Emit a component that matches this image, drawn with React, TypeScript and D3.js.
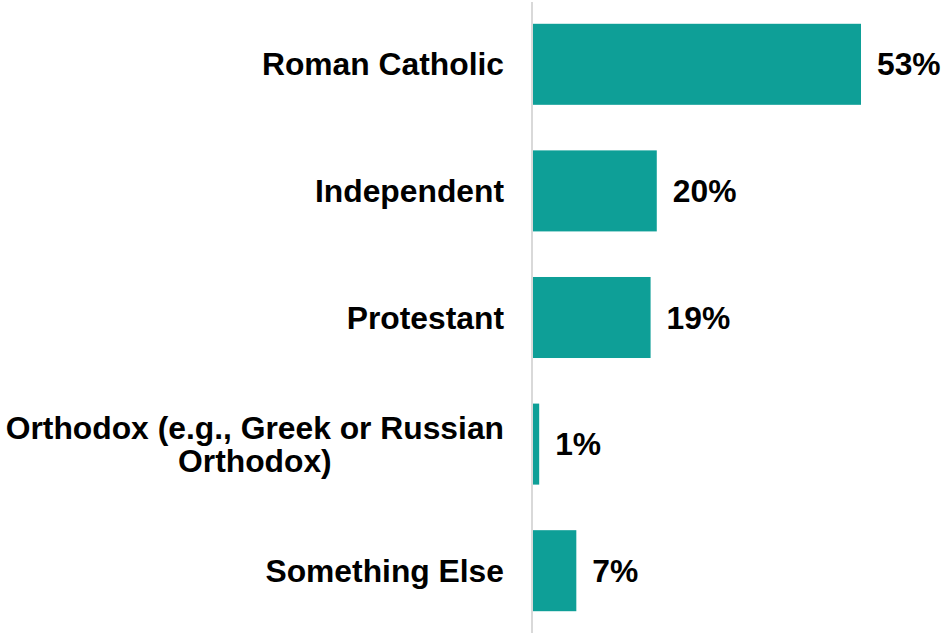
import React, { useLayoutEffect, useRef, useState } from "react";
import * as d3 from "d3";

const categories: string[][] = [
  ["Roman Catholic"],
  ["Independent"],
  ["Protestant"],
  ["Orthodox (e.g., Greek or Russian", "Orthodox)"],
  ["Something Else"],
];
const values: number[] = [53, 20, 19, 1, 7];
const valueLabels: string[] = ["53%", "20%", "19%", "1%", "7%"];

const W = 943;
const H = 638;
const FONT = "'Liberation Sans', Arial, sans-serif";
const FS = 31.8;
const BAR = "#0E9F97";

export default function App() {
  const keys = categories.map((c) => c.join(" "));
  const y = d3.scaleBand<string>().domain(keys).range([1, 634]).paddingInner(0.36).paddingOuter(0.18);
  const x = d3.scaleLinear().domain([0, 53]).range([533, 861]);
  const labelRight = 504;
  const refs = useRef<(SVGTextElement | null)[]>([]);
  const [widths, setWidths] = useState<number[]>(categories.map(() => 0));

  useLayoutEffect(() => {
    setWidths(
      categories.map((_, i) => {
        const el = refs.current[i];
        if (!el) return 0;
        const tspans = Array.from(el.querySelectorAll("tspan")) as SVGTSpanElement[];
        return d3.max(tspans, (t) => t.getComputedTextLength()) || 0;
      })
    );
  }, []);

  const lineH = 33;

  return (
    <svg width={W} height={H} style={{ position: "absolute", left: 0, top: 0 }}>
      <rect width={W} height={H} fill="#fff" />
      <line x1={532} x2={532} y1={2} y2={633} stroke="#d9d9d9" strokeWidth={2} />
      {categories.map((lines, i) => {
        const key = keys[i];
        const yc = (y(key) as number) + y.bandwidth() / 2;
        const multi = lines.length > 1;
        const cx = multi ? labelRight - widths[i] / 2 : labelRight;
        return (
          <g key={key}>
            <rect x={x(0)} y={y(key)} width={x(values[i]) - x(0)} height={y.bandwidth()} fill={BAR} />
            <text
              ref={(el) => {
                refs.current[i] = el;
              }}
              fontFamily={FONT}
              fontWeight="bold"
              fontSize={FS}
              textAnchor={multi ? "middle" : "end"}
              fill="#000"
            >
              {lines.map((ln, j) => (
                <tspan
                  key={j}
                  x={cx}
                  y={yc + (j - (lines.length - 1) / 2) * lineH}
                  dy="0.35em"
                >
                  {ln}
                </tspan>
              ))}
            </text>
            <text
              x={x(values[i]) + 16}
              y={yc}
              dy="0.35em"
              fontFamily={FONT}
              fontWeight="bold"
              fontSize={FS}
              fill="#000"
            >
              {valueLabels[i]}
            </text>
          </g>
        );
      })}
    </svg>
  );
}
